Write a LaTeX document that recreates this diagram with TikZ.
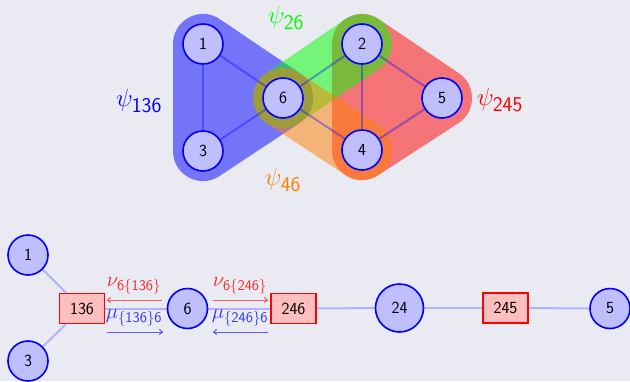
\documentclass[tikz,border=0pt]{standalone}
\usepackage{amsmath}
\usetikzlibrary{arrows.meta}
\definecolor{bgc}{HTML}{EAEAF2}
\pgfdeclarelayer{bglayer}
\pgfdeclarelayer{hulllayer}
\pgfdeclarelayer{edgelayer}
\pgfsetlayers{bglayer,hulllayer,edgelayer,main}
\begin{document}
\begin{tikzpicture}[x=1pt,y=-1pt,
  vnode/.style={circle,draw=blue,line width=1.6pt,fill=blue!25,minimum size=40pt,inner sep=0pt,font=\sffamily\fontsize{17}{19}\selectfont},
  fnode/.style={rectangle,draw=red,line width=1.6pt,fill=red!25,minimum width=45pt,minimum height=30pt,inner sep=0pt,font=\sffamily\fontsize{17}{19}\selectfont},
  hull/.style={line width=60pt,line join=round,line cap=round},
  hedge/.style={draw=blue,opacity=0.35,line width=2pt},
  fedge/.style={draw=blue!30,line width=2pt},
  plabel/.style={font=\fontsize{30}{34}\selectfont,inner sep=0pt},
  mlabel/.style={font=\fontsize{21}{23}\selectfont,inner sep=0pt},
  redmsg/.style={draw=red,opacity=0.6,line width=1pt,-{To[length=4pt,width=6pt]}},
  bluemsg/.style={draw=blue,opacity=0.6,line width=1pt,-{To[length=4pt,width=6pt]}}]
\begin{pgfonlayer}{bglayer}
\fill[bgc] (0,0) rectangle (630,381);
\end{pgfonlayer}
\useasboundingbox (0,0) rectangle (630,381);

% top hypergraph nodes
\node[vnode] (t1) at (203,44) {1};
\node[vnode] (t3) at (203,151) {3};
\node[vnode] (t6) at (283,98) {6};
\node[vnode] (t2) at (362,44) {2};
\node[vnode] (t4) at (362,150) {4};
\node[vnode] (t5) at (442,98) {5};

\begin{pgfonlayer}{hulllayer}
\begin{scope}[transparency group,opacity=0.5]
  \path (0,0) rectangle (630,381);
  \filldraw[blue,hull] (t1.center) -- (t3.center) -- (t6.center) -- cycle;
\end{scope}
\begin{scope}[transparency group,opacity=0.5]
  \path (0,0) rectangle (630,381);
  \filldraw[red,hull] (t2.center) -- (t4.center) -- (t5.center) -- cycle;
\end{scope}
\begin{scope}[transparency group,opacity=0.5]
  \path (0,0) rectangle (630,381);
  \draw[green,hull] (t6.center) -- (t2.center);
\end{scope}
\begin{scope}[transparency group,opacity=0.5]
  \path (0,0) rectangle (630,381);
  \draw[orange,hull] (t6.center) -- (t4.center);
\end{scope}
\end{pgfonlayer}

\begin{pgfonlayer}{edgelayer}
  \draw[hedge] (t1) -- (t3);
  \draw[hedge] (t1) -- (t6);
  \draw[hedge] (t3) -- (t6);
  \draw[hedge] (t6) -- (t2);
  \draw[hedge] (t6) -- (t4);
  \draw[hedge] (t2) -- (t4);
  \draw[hedge] (t2) -- (t5);
  \draw[hedge] (t4) -- (t5);
\end{pgfonlayer}

\node[plabel,text=blue] (p136) at (139,101) {$\psi_{\text{\sffamily 136}}$};
\node[plabel,text=green] (p26) at (286,18) {$\psi_{\text{\sffamily 26}}$};
\node[plabel,text=red] (p245) at (500,100) {$\psi_{\text{\sffamily 245}}$};
\node[plabel,text=orange] (p46) at (283,180) {$\psi_{\text{\sffamily 46}}$};

% bottom factor graph
\node[vnode] (b1) at (28,255) {1};
\node[vnode] (b3) at (28,361) {3};
\node[fnode] (f136) at (82,308.5) {136};
\node[vnode] (b6) at (187.5,308.5) {6};
\node[fnode] (f246) at (293.5,308.5) {246};
\node[vnode,minimum size=48pt] (b24) at (399.5,308) {24};
\node[fnode] (f245) at (505.5,308) {245};
\node[vnode] (b5) at (610,308.5) {5};

\begin{pgfonlayer}{edgelayer}
  \draw[fedge] (b1) -- (f136);
  \draw[fedge] (b3) -- (f136);
  \draw[fedge] (f136) -- (b6);
  \draw[fedge] (b6) -- (f246);
  \draw[fedge] (f246) -- (b24);
  \draw[fedge] (b24) -- (f245);
  \draw[fedge] (f245) -- (b5);
\end{pgfonlayer}

% messages
\coordinate (m1a) at (162,300); \coordinate (m1b) at (107,300);
\coordinate (m2a) at (107,332); \coordinate (m2b) at (163,332);
\coordinate (m3a) at (213,300); \coordinate (m3b) at (268,300);
\coordinate (m4a) at (268,332); \coordinate (m4b) at (213,332);
\draw[redmsg] (m1a) -- (m1b);
\draw[bluemsg] (m2a) -- (m2b);
\draw[redmsg] (m3a) -- (m3b);
\draw[bluemsg] (m4a) -- (m4b);

\node[mlabel,text=red!85] (l1) at (134,286) {$\nu_{\text{\sffamily 6\{136\}}}$};
\node[mlabel,text=blue!80] (l2) at (134,318) {$\mu_{\text{\sffamily \{136\}6}}$};
\node[mlabel,text=red!85] (l3) at (240,286) {$\nu_{\text{\sffamily 6\{246\}}}$};
\node[mlabel,text=blue!80] (l4) at (240,318) {$\mu_{\text{\sffamily \{246\}6}}$};
\end{tikzpicture}
\end{document}
